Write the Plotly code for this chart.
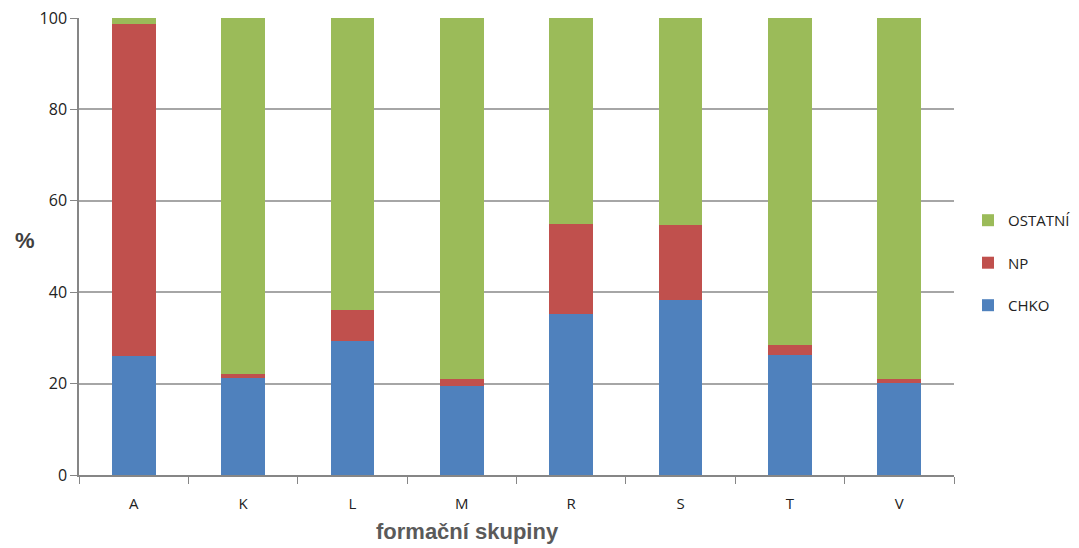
import plotly.graph_objects as go

categories = ["A", "K", "L", "M", "R", "S", "T", "V"]
chko = [26.1, 21.3, 29.3, 19.4, 35.2, 38.3, 26.2, 20.1]
np_vals = [72.6, 0.7, 6.7, 1.5, 19.7, 16.3, 2.2, 0.8]
ostatni = [round(100 - a - b, 1) for a, b in zip(chko, np_vals)]

series = [
    ("CHKO", chko, "#4F81BD", 3),
    ("NP", np_vals, "#C0504D", 2),
    ("OSTATNÍ", ostatni, "#9BBB59", 1),
]

fig = go.Figure()
for name, vals, color, rank in series:
    fig.add_trace(go.Bar(
        x=categories, y=vals, name=name,
        marker=dict(color=color, line=dict(width=0)),
        legendgroup=name, legendrank=rank,
    ))

font_family = "Open Sans, Noto Sans, sans-serif"

# page body has an 8px margin, so the figure is sized to fit the window
fig.update_layout(
    barmode="stack",
    bargap=0.6,
    width=1071, height=540,
    margin=dict(l=71, r=125, t=10, b=73, autoexpand=False),
    plot_bgcolor="white", paper_bgcolor="white",
    font=dict(family=font_family, size=15, color="#222222"),
    showlegend=True,
    legend=dict(
        x=1.016, xanchor="left", y=0.464, yanchor="middle",
        traceorder="grouped", tracegroupgap=20,
        font=dict(size=15, color="#222222"),
        itemwidth=30,
    ),
    xaxis=dict(
        showline=True, linecolor="#868686", linewidth=1.5,
        ticks="outside", tickson="boundaries", ticklen=7, tickcolor="#868686",
        tickfont=dict(size=15), showgrid=False, ticklabelstandoff=14,
    ),
    yaxis=dict(
        range=[0, 100.001], tickvals=[0, 20, 40, 60, 80, 100],
        showline=True, linecolor="#868686", linewidth=1.5,
        ticks="outside", ticklen=7, tickcolor="#868686",
        showgrid=True, gridcolor="#A6A6A6", gridwidth=1.5,
        tickfont=dict(size=16), zeroline=False, ticklabeloverflow="allow",
    ),
    annotations=[
        dict(text="<b>%</b>", x=(25 - 79) / 875, y=(475 - 240) / 457,
             xref="paper", yref="paper", showarrow=False,
             xanchor="center", yanchor="middle",
             font=dict(family="Liberation Sans, Arial", size=22, color="#404040")),
        dict(text="<b>formační skupiny</b>", x=(467 - 79) / 875, y=-(531 - 475) / 457,
             xref="paper", yref="paper", showarrow=False,
             xanchor="center", yanchor="middle",
             font=dict(family="Liberation Sans, Arial", size=22, color="#5A5A5A")),
    ],
)

fig.write_html("out.html")
